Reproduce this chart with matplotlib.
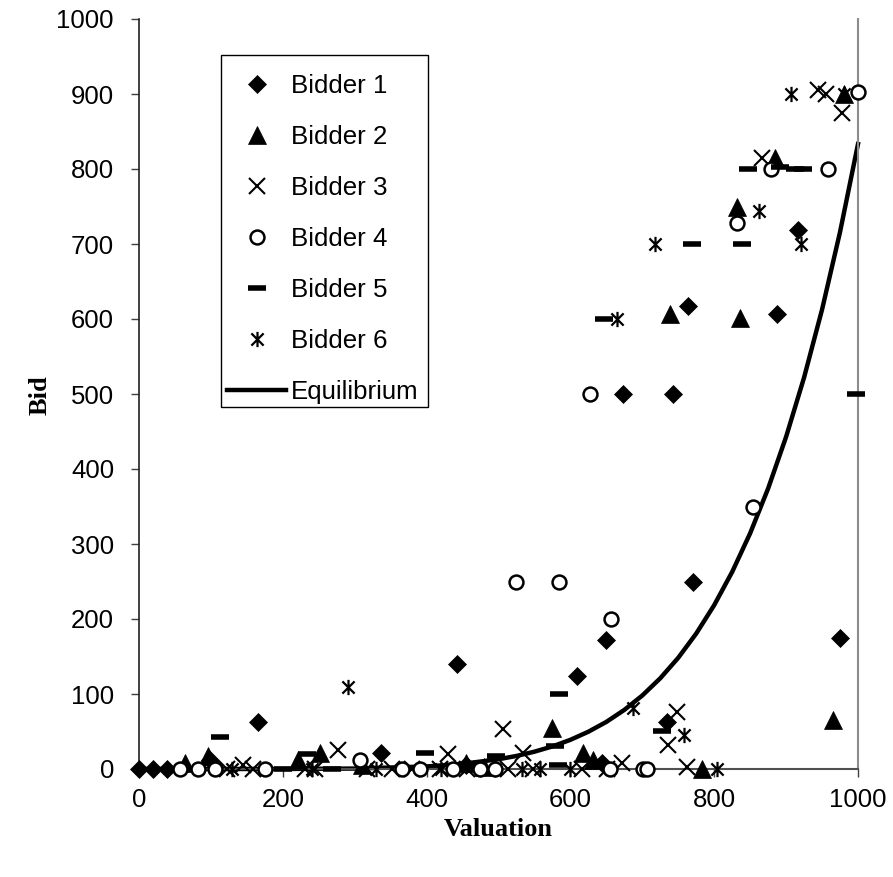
import matplotlib
matplotlib.use('Agg')
import matplotlib.pyplot as plt
from matplotlib.path import Path
from matplotlib.patches import Rectangle

# ---------------- data ----------------
b1_val = [0, 19, 39, 99, 166, 336, 442, 455, 609, 644, 650, 673, 734, 743, 764, 771, 887, 917, 975]
b1_bid = [0, 0, 0, 12, 63, 22, 140, 5, 124, 8, 172, 500, 63, 500, 617, 250, 607, 719, 175]

b2_val = [64, 96, 221, 252, 310, 455, 480, 574, 617, 631, 739, 783, 832, 836, 885, 965, 980]
b2_bid = [8, 18, 12, 22, 5, 8, 3, 55, 21, 12, 607, 0, 749, 601, 815, 65, 900]

b3_val = [122, 145, 159, 231, 245, 277, 317, 352, 380, 419, 430, 456, 485, 506, 513, 534, 548,
          616, 651, 672, 736, 748, 762, 866, 945, 955, 978]
b3_bid = [0, 5, 0, 0, 0, 25, 0, 0, 0, 0, 20, 0, 0, 53, 0, 22, 0,
          0, 0, 8, 32, 76, 3, 815, 905, 900, 875]

b4_val = [57, 82, 106, 175, 307, 366, 391, 437, 474, 495, 524, 584, 627, 655, 656, 701, 707,
          832, 854, 879, 958, 1000]
b4_bid = [0, 0, 0, 0, 12, 0, 0, 0, 0, 0, 250, 250, 500, 0, 200, 0, 0,
          728, 349, 800, 800, 903]

b5_val = [113, 200, 234, 268, 398, 497, 579, 583, 584, 647, 727, 769, 839, 847, 892, 912, 924, 997]
b5_bid = [43, 0, 20, 0, 21, 18, 31, 5, 100, 600, 51, 700, 700, 800, 803, 800, 800, 500]

b6_val = [130, 240, 291, 330, 420, 532, 558, 599, 665, 687, 718, 758, 804, 862, 907, 921, 980]
b6_bid = [0, 0, 110, 0, 0, 0, 0, 0, 600, 81, 700, 46, 0, 744, 900, 700, 900]

eq_val = [0, 100, 200, 300, 400, 450, 500, 525, 550, 575, 600, 625, 650, 675, 700, 725,
          750, 775, 800, 825, 850, 875, 900, 925, 950, 975, 1000]
eq_bid = [0, 0, 0.05, 0.6, 3.4, 6.9, 13.0, 17.4, 23.1, 30.1, 38.9, 49.7, 62.8, 78.8, 98.0, 121.0,
          148.3, 180.6, 218.5, 262.8, 314.3, 374.0, 442.9, 522.0, 612.6, 715.9, 833.3]

series_labels = ['Bidder 1', 'Bidder 2', 'Bidder 3', 'Bidder 4', 'Bidder 5', 'Bidder 6', 'Equilibrium']
x_ticks = [0, 200, 400, 600, 800, 1000]
y_ticks = [0, 100, 200, 300, 400, 500, 600, 700, 800, 900, 1000]

# ---------------- figure ----------------
W, H = 893, 877
fig = plt.figure(figsize=(W / 100, H / 100), dpi=100)
ax = fig.add_axes([139 / W, 1 - 769 / H, (858 - 139) / W, (769 - 19) / H])

star = Path([(-1, -1), (1, 1), (-1, 1), (1, -1), (0, -1.25), (0, 1.25)],
            [Path.MOVETO, Path.LINETO, Path.MOVETO, Path.LINETO, Path.MOVETO, Path.LINETO])

eq_line, = ax.plot(eq_val, eq_bid, color='black', lw=3.2, zorder=2, clip_on=False)

h1, = ax.plot(b1_val, b1_bid, ls='none', marker='D', ms=9.3, mfc='black', mec='black', mew=0.5, clip_on=False, zorder=3)
h2, = ax.plot(b2_val, b2_bid, ls='none', marker='^', ms=13, mfc='black', mec='black', mew=0.5, clip_on=False, zorder=3)
h3, = ax.plot(b3_val, b3_bid, ls='none', marker='x', ms=12, mec='black', mew=1.5, clip_on=False, zorder=3)
h4, = ax.plot(b4_val, b4_bid, ls='none', marker='o', ms=10, mfc='white', mec='black', mew=1.8, clip_on=False, zorder=3)
h5, = ax.plot(b5_val, b5_bid, ls='none', marker='_', ms=13, mec='black', mew=4, clip_on=False, zorder=3)
h6, = ax.plot(b6_val, b6_bid, ls='none', marker=star, ms=11, mec='black', mfc='none', mew=1.6, clip_on=False, zorder=3)

ax.set_xlim(0, 1000)
ax.set_ylim(0, 1000)
ax.set_xticks(x_ticks)
ax.set_yticks(y_ticks)

tick_font = dict(family='Liberation Sans', size=18.5)
ax.set_xticklabels([str(t) for t in x_ticks], **tick_font)
ax.set_yticklabels([str(t) for t in y_ticks], **tick_font)
ax.tick_params(axis='both', direction='out', length=6, width=1, color='#404040')
ax.tick_params(axis='y', pad=12)
ax.tick_params(axis='x', pad=8)

ax.spines['top'].set_visible(False)
ax.spines['right'].set_color('#8c8c8c')
ax.spines['right'].set_linewidth(1.5)
ax.spines['left'].set_color('#202020')
ax.spines['left'].set_linewidth(1.2)
ax.spines['bottom'].set_color('#505050')
ax.spines['bottom'].set_linewidth(1.5)

label_font = dict(family='Liberation Serif', weight='bold', size=19)
fig.text(498 / W, 1 - 829 / H, 'Valuation', ha='center', va='center', **label_font)
fig.text(40 / W, 1 - 395 / H, 'Bid', ha='center', va='center', rotation=90, **label_font)

# legend: entries without frame, frame drawn as a rectangle in figure pixels
leg = fig.legend([h1, h2, h3, h4, h5, h6, eq_line], series_labels,
                 loc='upper left', bbox_to_anchor=(227 / W, 1 - 74 / H), borderaxespad=0,
                 prop=dict(family='Liberation Sans', size=18.6), numpoints=1,
                 handlelength=2.3, handletextpad=0.18, labelspacing=1.045, borderpad=0,
                 frameon=False)
frame = Rectangle((221 / W, 1 - 407 / H), (428 - 221) / W, (407 - 55) / H,
                  transform=fig.transFigure, fill=True, facecolor='white',
                  edgecolor='black', lw=1.0, zorder=4)
fig.patches.append(frame)
leg.set_zorder(5)

fig.savefig('out.png', dpi=100)
